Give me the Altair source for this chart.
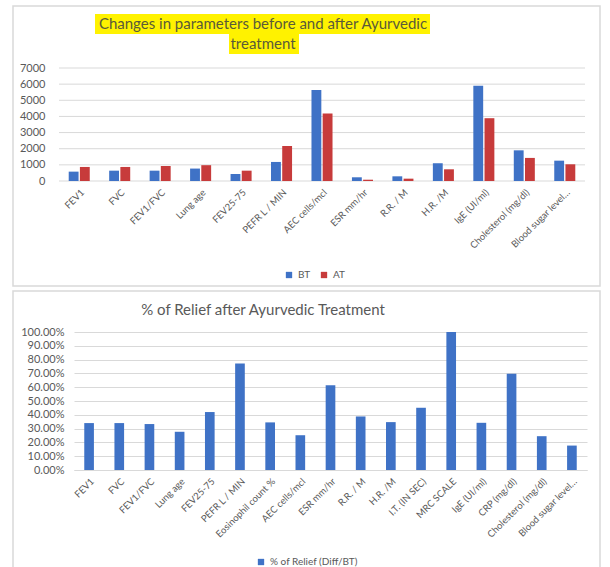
import altair as alt
import pandas as pd

# ---- data ----
params_top = ["FEV1", "FVC", "FEV1/FVC", "Lung age", "FEV25-75", "PEFR L / MIN",
              "AEC cells/mcl", "ESR mm/hr", "R.R. / M", "H.R. /M", "IgE (UI/ml)",
              "Cholesterol (mg/dl)", "Blood sugar level…"]
bt_values = [580, 640, 640, 770, 435, 1180, 5630, 230, 290, 1100, 5900, 1900, 1260]
at_values = [870, 870, 930, 980, 640, 2170, 4180, 80, 145, 725, 3890, 1430, 1035]

params_bot = ["FEV1", "FVC", "FEV1/FVC", "Lung age", "FEV25-75", "PEFR L / MIN",
              "Eosinophil count %", "AEC cells/mcl", "ESR mm/hr", "R.R. / M", "H.R. /M",
              "I.T. (IN SEC)", "MRC SCALE", "IgE (UI/ml)", "CRP (mg/dl)",
              "Cholesterol (mg/dl)", "Blood sugar level…"]
relief_values = [0.34, 0.34, 0.333, 0.277, 0.42, 0.772, 0.345, 0.252, 0.614, 0.388,
                 0.347, 0.451, 1.0, 0.342, 0.697, 0.245, 0.177]

series_names = ["BT", "AT"]
relief_series = "% of Relief (Diff/BT)"
top_title = ["Changes in parameters before and after Ayurvedic", "treatment"]
bot_title = "% of Relief after Ayurvedic Treatment"
top_ticks = [0, 1000, 2000, 3000, 4000, 5000, 6000, 7000]
bot_ticks = [0, 0.1, 0.2, 0.3, 0.4, 0.5, 0.6, 0.7, 0.8, 0.9, 1.0]

top_df = pd.DataFrame({
    "Parameter": params_top * 2,
    "Series": [series_names[0]] * len(params_top) + [series_names[1]] * len(params_top),
    "Value": bt_values + at_values,
})
bot_df = pd.DataFrame({
    "Parameter": params_bot,
    "Series": [relief_series] * len(params_bot),
    "Relief": relief_values,
})
tick_df = pd.DataFrame({"Value": top_ticks})
one_row = pd.DataFrame({"k": [0]})

FONT = "Lato"
GRAY = "#595959"
GRID = "#D9D9D9"
BLUE = "#3F72C6"
RED = "#C73B3B"


def frame(x1, x2, y1, y2):
    return alt.Chart(one_row).mark_rect(fill="white", fillOpacity=0, stroke=GRID, strokeWidth=1.5).encode(
        x=alt.value(x1), x2=alt.value(x2), y=alt.value(y1), y2=alt.value(y2))


def label(text, x, y, color):
    return alt.Chart(one_row).mark_text(text=text, font=FONT, fontSize=15, color=color,
                                        align="center", baseline="middle").encode(
        x=alt.value(x), y=alt.value(y))


# ---- top panel (plot drawn from x=-15 to 511 around a shared origin) ----
top_w, top_h = 511, 113
top_left = -15

top_frame = frame(-61, 526, -62, 218)
hl1 = alt.Chart(one_row).mark_rect(color="#FFF200").encode(
    x=alt.value(21), x2=alt.value(356), y=alt.value(-54), y2=alt.value(-34))
hl2 = alt.Chart(one_row).mark_rect(color="#FFF200").encode(
    x=alt.value(155), x2=alt.value(225), y=alt.value(-34), y2=alt.value(-14))
t1 = label(top_title[0], 189, -44, "#5A5A3A")
t2 = label(top_title[1], 189, -24, "#5A5A3A")

y_top = alt.Y("Value:Q", title=None, scale=alt.Scale(domain=[0, 7000]),
              axis=alt.Axis(values=top_ticks, format="d", grid=False, domain=False,
                            ticks=False, labelFontSize=11, labelColor=GRAY, labelPadding=29,
                            labelFont=FONT))

top_grid = alt.Chart(tick_df).mark_rule(color=GRID, strokeWidth=1).encode(
    y=y_top, x=alt.value(top_left), x2=alt.value(top_w))

top_bars = alt.Chart(top_df).mark_bar().encode(
    x=alt.X("Parameter:N", sort=params_top, title=None,
            scale=alt.Scale(paddingInner=0.48, paddingOuter=0.24, range=[top_left, top_w]),
            axis=alt.Axis(labelAngle=-45, labelFontSize=9.5, labelColor=GRAY, ticks=False,
                          domain=False, labelPadding=6, labelFont=FONT)),
    xOffset=alt.XOffset("Series:N", sort=series_names, scale=alt.Scale(paddingInner=0.12)),
    y=y_top,
    color=alt.Color("Series:N", sort=series_names,
                    scale=alt.Scale(domain=series_names, range=[BLUE, RED]),
                    legend=alt.Legend(title=None, orient="none", legendX=210, legendY=202,
                                      direction="horizontal", symbolType="square", symbolSize=40,
                                      labelFontSize=10, labelColor=GRAY, labelFont=FONT,
                                      columnPadding=8)),
)

top = alt.layer(top_frame, hl1, hl2, t1, t2, top_grid, top_bars).properties(width=top_w, height=top_h)

# ---- bottom panel ----
bot_w, bot_h = 513, 138

bot_frame = frame(-61, 526, -41, 260)
bt1 = label(bot_title, 189, -22, GRAY)

bot_bars = alt.Chart(bot_df).mark_bar(color=BLUE).encode(
    x=alt.X("Parameter:N", sort=params_bot, title=None,
            scale=alt.Scale(paddingInner=0.68, paddingOuter=0.34),
            axis=alt.Axis(labelAngle=-45, labelFontSize=9.5, labelColor=GRAY, ticks=False,
                          domainColor=GRID, labelPadding=6, labelFont=FONT)),
    y=alt.Y("Relief:Q", title=None, scale=alt.Scale(domain=[0, 1]),
            axis=alt.Axis(values=bot_ticks, format=".2%", grid=True, gridColor=GRID, domain=False,
                          ticks=False, labelFontSize=11, labelColor=GRAY, labelPadding=10,
                          labelFont=FONT)),
    color=alt.Color("Series:N", scale=alt.Scale(domain=[relief_series], range=[BLUE]),
                    legend=alt.Legend(title=None, orient="none", legendX=182, legendY=225,
                                      direction="horizontal", symbolType="square", symbolSize=40,
                                      labelFontSize=10, labelColor=GRAY, labelFont=FONT)),
)

bottom = alt.layer(bot_frame, bt1, bot_bars).properties(width=bot_w, height=bot_h)

chart = alt.vconcat(top, bottom, spacing=1).resolve_scale(
    color="independent", x="independent", y="independent"
).properties(
    padding={"left": 11, "top": 4, "right": 0, "bottom": 0},
).configure(font=FONT).configure_view(stroke="transparent")

chart.save("out.html", embed_options={"renderer": "svg", "actions": False})
